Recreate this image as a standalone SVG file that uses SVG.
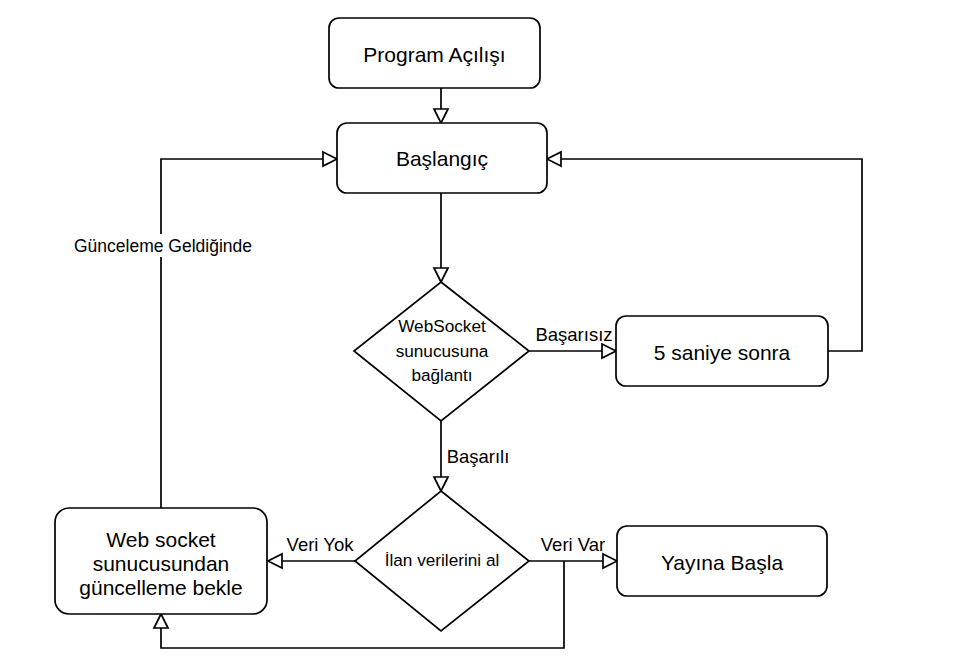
<svg xmlns="http://www.w3.org/2000/svg" width="966" height="669" viewBox="0 0 966 669">
  <style>
    .box { fill: #ffffff; stroke: #000000; stroke-width: 1.7; }
    .edge { fill: none; stroke: #000000; stroke-width: 1.7; }
    .t { font-family: "Liberation Sans", Arial, sans-serif; fill: #000000; text-anchor: middle; }
    .node { font-size: 21px; }
    .dia { font-size: 17.2px; }
    .lbl { font-size: 18.5px; }
  </style>
  <defs>
    <marker id="arrow" markerUnits="userSpaceOnUse" markerWidth="18" markerHeight="18" refX="14" refY="7" orient="auto" viewBox="-2 -2 18 18">
      <path d="M0,0 L14,7 L0,14 Z" fill="#ffffff" stroke="#000000" stroke-width="1.7"/>
    </marker>
  </defs>
  <rect width="966" height="669" fill="#ffffff"/>

  <g id="connectors">
    <path class="edge" d="M441,88 L441,123" marker-end="url(#arrow)"/>
    <path class="edge" d="M441,193 L441,282" marker-end="url(#arrow)"/>
    <path class="edge" d="M529,351 L616,351" marker-end="url(#arrow)"/>
    <path class="edge" d="M828,351 L862,351 L862,159 L547,159" marker-end="url(#arrow)"/>
    <path class="edge" d="M441,421 L441,491" marker-end="url(#arrow)"/>
    <path class="edge" d="M355,561 L268,561" marker-end="url(#arrow)"/>
    <path class="edge" d="M529,561 L617,561" marker-end="url(#arrow)"/>
    <path class="edge" d="M564,561 L564,648 L161,648 L161,614" marker-end="url(#arrow)"/>
    <path class="edge" d="M161,508 L161,159 L337,159" marker-end="url(#arrow)"/>
    <text class="t lbl" x="574" y="341">Başarısız</text>
    <text class="t lbl" x="478" y="463">Başarılı</text>
    <text class="t lbl" x="320" y="551">Veri Yok</text>
    <text class="t lbl" x="573" y="551">Veri Var</text>
    <rect x="73" y="234" width="180" height="23" fill="#ffffff"/>
    <text class="t" style="font-size:17.5px" x="163" y="252">Günceleme Geldiğinde</text>
  </g>

  <g id="program-acilisi">
    <rect class="box" x="329" y="18" width="211" height="70" rx="10"/>
    <text class="t node" x="434.5" y="62">Program Açılışı</text>
  </g>
  <g id="baslangic">
    <rect class="box" x="337" y="123" width="210" height="70" rx="10"/>
    <text class="t node" x="442" y="166">Başlangıç</text>
  </g>
  <g id="websocket-baglanti">
    <polygon class="box" points="441,282 529,351 441,421 354,351"/>
    <text class="t dia" x="442" y="332">WebSocket</text>
    <text class="t dia" x="442" y="357">sunucusuna</text>
    <text class="t dia" x="442" y="381">bağlantı</text>
  </g>
  <g id="bes-saniye-sonra">
    <rect class="box" x="616" y="316" width="212" height="70" rx="10"/>
    <text class="t node" x="722" y="360">5 saniye sonra</text>
  </g>
  <g id="ilan-verilerini-al">
    <polygon class="box" points="441,491 529,561 441,631 355,561"/>
    <text class="t dia" x="442" y="566">İlan verilerini al</text>
  </g>
  <g id="web-socket-bekle">
    <rect class="box" x="55" y="508" width="212" height="106" rx="14"/>
    <text class="t node" x="161" y="547">Web socket</text>
    <text class="t node" x="161" y="571">sunucusundan</text>
    <text class="t node" x="161" y="595">güncelleme bekle</text>
  </g>
  <g id="yayina-basla">
    <rect class="box" x="617" y="526" width="210" height="70" rx="10"/>
    <text class="t node" x="722" y="570">Yayına Başla</text>
  </g>
</svg>
